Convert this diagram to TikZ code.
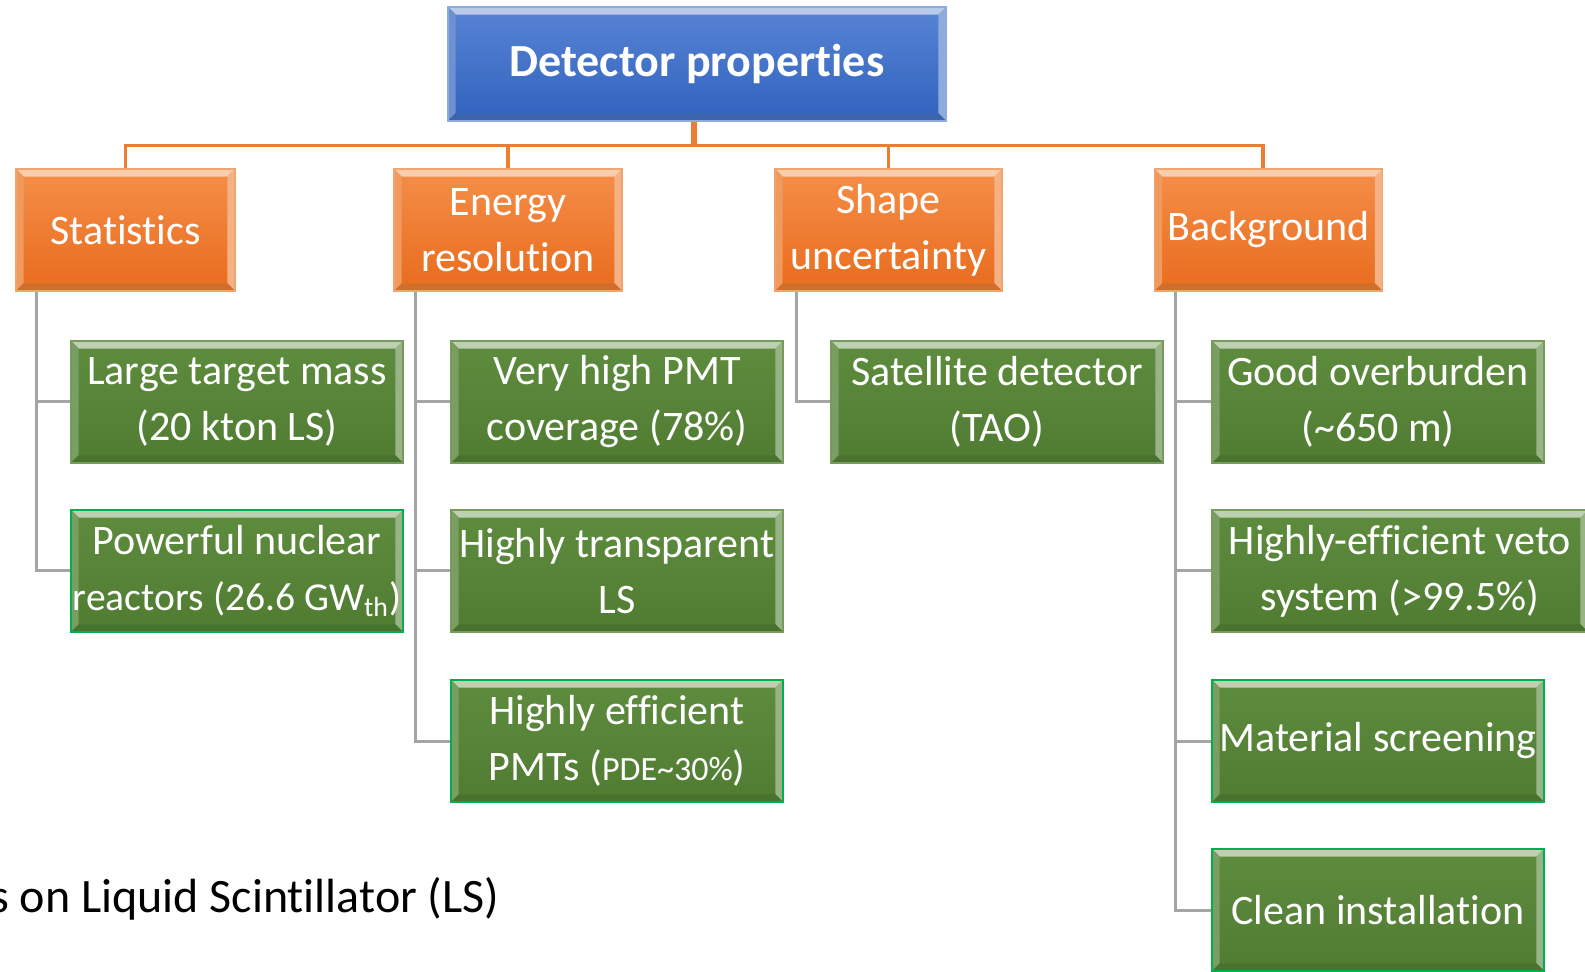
\documentclass[tikz,border=0pt]{standalone}
\usepackage{fontspec}
\setmainfont{Carlito}[Ligatures=NoCommon]
\usetikzlibrary{calc}

\definecolor{blueTop}{RGB}{88,132,212}
\definecolor{blueBot}{RGB}{48,98,190}
\definecolor{blueBase}{RGB}{68,114,196}
\definecolor{orTop}{RGB}{245,142,72}
\definecolor{orBot}{RGB}{232,108,30}
\definecolor{orBase}{RGB}{237,125,49}
\definecolor{grTop}{RGB}{94,140,62}
\definecolor{grBot}{RGB}{80,124,50}
\definecolor{grBase}{RGB}{84,130,53}
\definecolor{grEdge}{RGB}{0,176,80}
\definecolor{linkOrange}{RGB}{237,125,49}
\definecolor{linkGray}{RGB}{165,165,165}

\newcommand\bev{3.8pt}
\newcommand\boxfont{\fontsize{21}{28}\selectfont}
\newcommand\titlefont{\bfseries\fontsize{23}{28}\selectfont}
% a line that keeps its natural spacing and may overhang the box evenly
\newcommand\wideline[1]{\makebox[\linewidth]{#1}}

\tikzset{
  % bevelled edge: light top, soft left/right, darker bottom
  bevel/.style={path picture={
    \def\pb{path picture bounding box}
    \fill[#1!38!white] (\pb.north west) -- (\pb.north east)
      -- ($(\pb.north east)+(-\bev,-\bev)$) -- ($(\pb.north west)+(\bev,-\bev)$) -- cycle;
    \fill[#1!78!white] (\pb.north west) -- ($(\pb.north west)+(\bev,-\bev)$)
      -- ($(\pb.south west)+(\bev,\bev)$) -- (\pb.south west) -- cycle;
    \fill[#1!60!white] (\pb.north east) -- ($(\pb.north east)+(-\bev,-\bev)$)
      -- ($(\pb.south east)+(-\bev,\bev)$) -- (\pb.south east) -- cycle;
    \fill[#1!88!black] (\pb.south west) -- ($(\pb.south west)+(\bev,\bev)$)
      -- ($(\pb.south east)+(-\bev,\bev)$) -- (\pb.south east) -- cycle;
  }},
  basebox/.style={rectangle, inner sep=0pt, align=flush center, text=white},
  titlebox/.style={basebox, top color=blueTop, bottom color=blueBot,
    draw=blueBase!60!white, line width=0.6pt, bevel=blueBase,
    minimum width=249pt, minimum height=57pt, font=\titlefont},
  catbox/.style={basebox, top color=orTop, bottom color=orBot,
    draw=orBase!70!white, line width=0.6pt, bevel=orBase,
    minimum height=61pt, font=\boxfont},
  itembox/.style={basebox, top color=grTop, bottom color=grBot,
    draw=grBase!80!white, line width=0.6pt, bevel=grBase,
    text width=166pt, minimum height=61pt, font=\boxfont},
  edged/.style={draw=grEdge, line width=1pt},
  oline/.style={draw=linkOrange, line width=1.6pt},
  ostem/.style={draw=linkOrange, line width=3.2pt},
  gline/.style={draw=linkGray, line width=1.5pt}
}

\begin{document}
\begin{tikzpicture}[x=0.5pt,y=-0.5pt]
\useasboundingbox (0,0) rectangle (1585,972);
\clip (0,0) rectangle (1585,972);

% root
\node[titlebox] (top) at (697,64) {Detector properties};

% categories
\node[catbox, minimum width=109.5pt] (stat) at (125.5,230) {Statistics};
\node[catbox, minimum width=114pt] (energy) at (508,230) {Energy\\resolution};
\node[catbox, minimum width=113.5pt] (shape) at (888.5,230) {Shape\\uncertainty};
\node[catbox, minimum width=114pt] (bg) at (1268.5,230) {Background};

% orange tree links
\coordinate (bus) at ($(top.south)+(-3,24)$);
\coordinate (bgTop) at ($(bg.north)+(-5.5,0)$);
\draw[oline] (stat.north) |- (bus) -| (bgTop);
\draw[oline] (energy.north) |- (bus);
\draw[oline] (shape.north) |- (bus);
\draw[ostem] (top.south -| bus) -- (bus);

% statistics items
\node[itembox] (g11) at (237,402) {Large target mass\\(20 kton LS)};
\node[itembox, edged] (g12) at (237,571) {Powerful nuclear\\\wideline{\fontsize{19.8}{28}\selectfont reactors (26.6 GW\textsubscript{th})}};

% energy resolution items
\node[itembox] (g21) at (617,402) {Very high PMT\\coverage (78\%)};
\node[itembox] (g22) at (617,571) {\wideline{Highly transparent}\\LS};
\node[itembox, edged] (g23) at (617,741) {Highly efficient\\PMTs ({\fontsize{17}{20}\selectfont PDE\textasciitilde30\%})};

% shape uncertainty item
\node[itembox] (g31) at (997,402) {Satellite detector\\(TAO)};

% background items
\node[itembox] (g41) at (1378,402) {Good overburden\\(\textasciitilde650 m)};
\node[itembox, text width=188pt] (g42) at (1400,571) {Highly-efficient veto\\system (>99.5\%)};
\node[itembox, edged] (g43) at (1378,741) {\wideline{Material screening}};
\node[itembox, edged] (g44) at (1378,910) {Clean installation};

% grey tree links
\draw[gline] ($(stat.south west)+(21.5,0)$) |- (g12.west);
\draw[gline] ($(stat.south west)+(21.5,0)$) |- (g11.west);
\draw[gline] ($(energy.south west)+(22,0)$) |- (g23.west);
\draw[gline] ($(energy.south west)+(22,0)$) |- (g22.west);
\draw[gline] ($(energy.south west)+(22,0)$) |- (g21.west);
\draw[gline] ($(shape.south west)+(22,0)$) |- (g31.west);
\draw[gline] ($(bg.south west)+(22,0)$) |- (g44.west);
\draw[gline] ($(bg.south west)+(22,0)$) |- (g43.west);
\draw[gline] ($(bg.south west)+(22,0)$) |- (g42.west);
\draw[gline] ($(bg.south west)+(22,0)$) |- (g41.west);

% caption line at the lower left
\node[anchor=base east, text=black, font=\fontsize{24}{28}\selectfont, inner sep=0pt] (caption) at (500,912) {s on Liquid Scintillator (LS)};
\end{tikzpicture}
\end{document}
